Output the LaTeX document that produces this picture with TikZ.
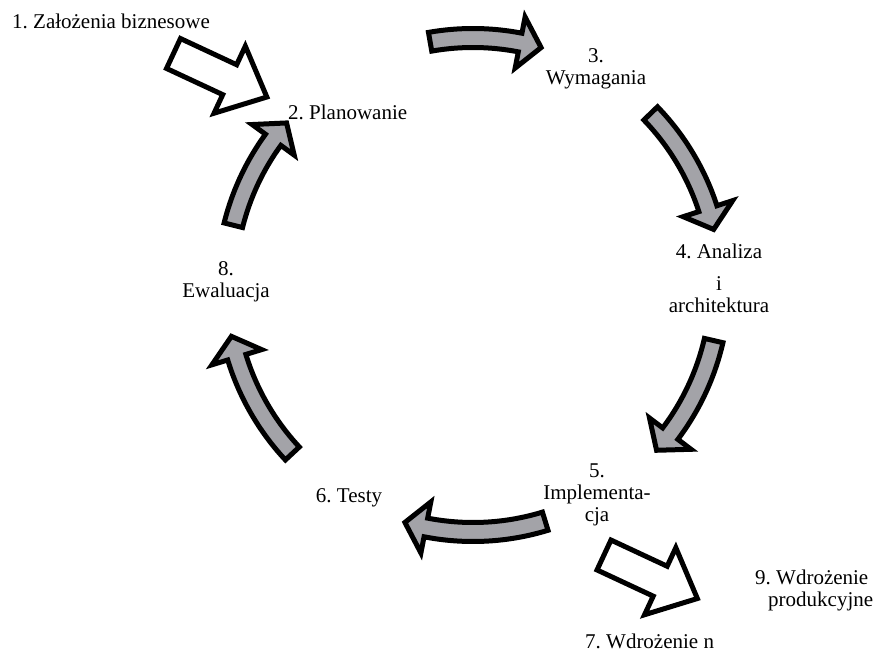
\documentclass[tikz,border=0pt]{standalone}
\usepackage{fontspec}
\setmainfont{Liberation Serif}
\definecolor{arrowgray}{RGB}{163,163,168}
\begin{document}
\begin{tikzpicture}
    [x=1pt, y=1pt,
    phase/.style={font=\fontsize{21}{22}\selectfont\frenchspacing, inner sep=0pt, align=center},
    cycle arrow/.style={draw=black, line width=5pt, fill=arrowgray},
    side arrow/.style={draw=black, line width=5pt, fill=white}]

    \coordinate (O) at (0, 0);
    \def\Ro{256.5}
    \def\Ri{237.5}
    \def\Rm{247}
    \def\Ho{273}
    \def\Hi{221}

    \useasboundingbox (-473, -367) rectangle (404, 285);

    % drawing the phases
    \node[phase, anchor=base west] (zal) at (-461, 256) {1. Założenia biznesowe};
    \node[phase, anchor=base west] (plan) at (-185, 165) {2. Planowanie};
    \node[phase, anchor=base] (wym) at (123, 200) {3.\\Wymagania};
    \node[phase, anchor=base] (anal) at (246, -28) {4. Analiza\\[10pt]i\\architektura};
    \node[phase, anchor=base] (impl) at (124, -236) {5.\\Implementa-\\cja};
    \node[phase, anchor=base] (test) at (-124, -217) {6. Testy};
    \node[phase, anchor=base west] (wdn) at (112, -363) {7. Wdrożenie n};
    \node[phase, anchor=base] (ewal) at (-247, -13) {8.\\Ewaluacja};
    \node[phase, anchor=base west, align=left] (wdp) at (282, -321) {9. Wdrożenie\\\hspace*{13pt}produkcyjne};

    % drawing the cycle arrows
    \foreach \s/\e in {100/74, 44/13, -13/-42, -73/-106, -137/-168, 166/139} {
        \pgfmathsetmacro{\hb}{\e+5}
        \draw[cycle arrow] (\s:\Ro) arc[start angle=\s, end angle=\hb, radius=\Ro]
            -- (\hb:\Ho) -- (\e:\Rm) -- (\hb:\Hi) -- (\hb:\Ri)
            arc[start angle=\hb, end angle=\s, radius=\Ri] -- cycle;
    }

    % drawing the side arrows
    \foreach \p in {(-299.5, 231.5), (131, -270)} {
        \draw[side arrow, shift={\p}, rotate=-25] (0, -16.5) -- (62, -16.5) -- (62, -37)
            -- (103, 0) -- (62, 37) -- (62, 16.5) -- (0, 16.5) -- cycle;
    }

\end{tikzpicture}
\end{document}
